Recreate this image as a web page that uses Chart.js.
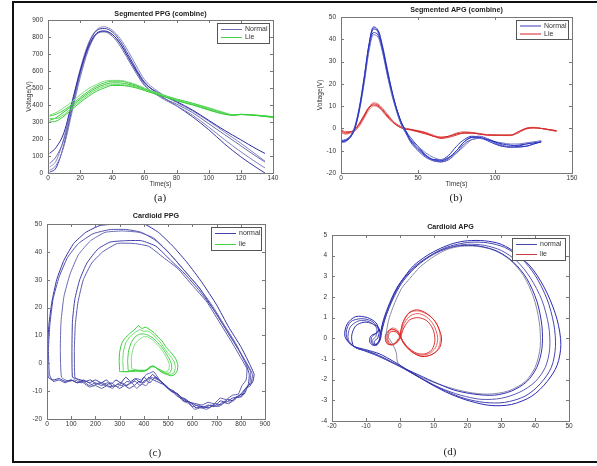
<!DOCTYPE html>
<html>
<head>
<meta charset="utf-8">
<script src="https://cdn.jsdelivr.net/npm/chart.js@4.4.1/dist/chart.umd.min.js"></script>
<style>
  body { margin: 0; background: #fff; }
  #page { position: relative; width: 597px; height: 466px; overflow: hidden; background: #fff; }
  #frame { position: absolute; left: 12px; top: 1px; width: 600px; height: 458px; border: 2px solid #111; border-right: none; }
  canvas { position: absolute; }
  .cap { position: absolute; font-family: "Liberation Serif", "DejaVu Serif", serif; font-size: 11px; color: #222; transform: translateX(-50%); }
</style>
</head>
<body>
<div id="page">
  <div id="frame"></div>
  <canvas id="ppgSeg" width="275" height="192" style="left:20px;top:0px"></canvas>
  <canvas id="apgSeg" width="297" height="192" style="left:300px;top:0px"></canvas>
  <canvas id="ppgCard" width="270" height="262" style="left:20px;top:200px"></canvas>
  <canvas id="apgCard" width="297" height="262" style="left:300px;top:200px"></canvas>
  <div class="cap" style="left:160px;top:191px">(a)</div>
  <div class="cap" style="left:456px;top:191px">(b)</div>
  <div class="cap" style="left:155px;top:446px">(c)</div>
  <div class="cap" style="left:450px;top:445px">(d)</div>
</div>
<script>
// ---- (a) Segmented PPG ----
const ppgTime = [1, 5, 10, 15, 20, 25, 30, 35, 40, 45, 50, 55, 60, 70, 80, 90, 100, 110, 120, 130, 135];
const ppgNormal1 = [115, 150, 240, 420, 600, 740, 820, 835, 815, 760, 680, 600, 530, 465, 420, 370, 310, 250, 195, 140, 115];
const ppgNormal2 = [55, 95, 200, 390, 580, 730, 815, 830, 805, 745, 665, 585, 515, 450, 405, 355, 290, 225, 160, 95, 65];
const ppgNormal3 = [15, 45, 160, 360, 560, 720, 815, 835, 815, 760, 680, 595, 520, 445, 395, 340, 270, 195, 125, 60, 30];
const ppgNormal4 = [5, 30, 170, 380, 590, 750, 835, 850, 830, 775, 695, 610, 535, 455, 395, 330, 255, 170, 95, 30, 0];
const ppgNormal5 = [35, 70, 210, 410, 610, 760, 840, 860, 840, 790, 715, 630, 550, 470, 415, 365, 305, 240, 175, 105, 70];

const ppgLieTime = [1, 5, 10, 15, 20, 25, 30, 35, 40, 45, 50, 55, 60, 70, 80, 90, 100, 110, 115, 120, 130, 140];
const ppgLie1 = [300, 305, 335, 375, 415, 450, 480, 500, 515, 515, 510, 500, 485, 455, 425, 400, 370, 345, 340, 345, 338, 330];
const ppgLie2 = [320, 320, 345, 385, 425, 460, 490, 510, 520, 520, 515, 505, 490, 460, 430, 405, 375, 350, 342, 345, 340, 332];
const ppgLie3 = [335, 345, 370, 405, 445, 480, 510, 530, 540, 540, 530, 515, 495, 462, 435, 410, 380, 352, 342, 344, 340, 328];
const ppgLie4 = [340, 355, 385, 420, 460, 495, 520, 540, 545, 545, 535, 520, 500, 465, 435, 410, 385, 355, 343, 345, 338, 325];
const ppgLie5 = [310, 325, 360, 395, 435, 470, 500, 520, 530, 530, 522, 510, 492, 458, 430, 405, 375, 348, 340, 344, 338, 330];

// ---- (b) Segmented APG ----
const apgTime = [0, 3, 6, 9, 12, 15, 18, 21, 24, 27, 30, 33, 36, 39, 42, 45, 50, 55, 60, 65, 70, 75, 80, 85, 90, 95, 100, 105, 110, 115, 120, 125, 130];
const apgNormal1 = [-6, -5.5, -4, 0, 9, 22, 37, 45.5, 44, 36, 26, 17, 9, 3, -1, -5, -9, -12, -14, -14.5, -13, -10, -6, -4, -4, -5, -6, -7, -7.5, -8, -8, -7, -6];
const apgNormal2 = [-6, -5.5, -3.5, 1, 10, 23, 37, 45, 43, 35, 25, 16, 8, 2, -2, -6, -10, -13, -14.5, -15, -13.5, -10, -6, -4, -3.5, -4.5, -6, -7.5, -8.5, -8.5, -8, -7, -6];
const apgNormal3 = [-6.5, -6, -4, 0, 8, 20, 34, 42, 41, 34, 24, 15, 8, 2, -2, -5, -8, -11, -13, -14, -13, -11, -8, -5, -4.5, -5, -6, -6.5, -7, -7, -6.5, -6, -5.5];
const apgNormal4 = [-5.5, -5, -3.5, 0.5, 9, 21, 35, 43, 42, 35, 25, 16, 9, 3, -1, -4, -8, -12, -14, -14, -12, -8, -5, -3.5, -4, -5.5, -7, -8, -8, -7.5, -7, -6.5, -6];
const apgNormal5 = [-6, -5.5, -4, 0, 9, 22, 36, 44.5, 44, 37, 27, 17, 9, 3, -1.5, -5.5, -9.5, -12.5, -14.5, -15, -14, -11, -7, -5, -4.5, -5, -6.5, -8, -8.5, -8, -7, -6.5, -6];

const apgLieTime = [0, 3, 6, 9, 12, 15, 18, 21, 24, 27, 30, 35, 40, 45, 50, 55, 60, 65, 70, 75, 80, 85, 90, 95, 100, 105, 110, 115, 120, 125, 130, 135, 140];
const apgLie1 = [-1, -2, -1.5, -0.5, 2, 5.5, 9, 10.5, 10, 8, 5.5, 2, 0, -0.5, -1.2, -2, -3.5, -4, -3.5, -2.5, -2, -2, -2.5, -3, -3, -3, -3, -1.5, 0, 0.3, 0, -0.5, -1];
const apgLie2 = [-2, -2.5, -2, -1, 1.5, 5, 9, 11.5, 11, 9, 6.5, 2.5, 0.3, -0.3, -1, -1.8, -3, -4, -3.5, -2, -1.5, -1.8, -2.3, -2.8, -3, -3, -3, -2, 0, 0.5, 0, -0.5, -1.2];
const apgLie3 = [-0.5, -1.5, -1.5, -0.5, 2.5, 6, 9.5, 11, 10.5, 8.5, 6, 2.5, 0.5, -0.5, -1.5, -2.5, -3.5, -4.5, -4, -3, -2, -2, -2.5, -2.8, -3, -3.2, -3.2, -2, -0.3, 0.2, 0, -0.7, -1.3];
const apgLie4 = [-1.5, -2.5, -2, -1, 1, 4.5, 8, 10, 9.5, 7.5, 5, 2, 0, -0.8, -1.5, -2.3, -3.5, -4, -3.5, -2.5, -2.2, -2.2, -2.5, -3, -3, -3, -3, -1.8, 0, 0.4, 0, -0.5, -1];

// ---- (c) Cardioid PPG loops [x, y] ----
const cardPpgNormal1 = [[435,-4],[415,-6],[400,-5],[385,-7],[365,-5.5],[345,-6.5],[325,-5],[305,-7],[285,-6],[265,-7.5],[245,-6],[225,-7],[200,-6],[175,-7],[150,-6],[125,-7],[100,-6],[75,-6.5],[50,-5.5],[25,-6],[5,-5],[2,5],[8,14],[20,22],[40,30],[70,37],[110,43],[160,47],[220,49.5],[300,50],[400,50],[460,47],[520,42],[580,36],[640,29],[700,21],[750,13],[800,6],[835,0],[855,-4],[848,-7],[830,-8],[815,-11],[790,-11.5],[770,-13.5],[745,-13],[720,-15],[695,-14.5],[670,-16],[640,-15.5],[615,-16],[590,-14],[565,-13.5],[540,-11],[515,-10],[490,-8],[465,-6],[435,-4]];
const cardPpgNormal2 = [[445,-5],[425,-7],[405,-6],[385,-8],[365,-6.5],[345,-7],[325,-8],[300,-7],[275,-8.5],[250,-7],[225,-8],[200,-7],[175,-8],[150,-6.5],[125,-7],[100,-6],[75,-7],[50,-6],[25,-6.5],[10,-4],[6,5],[12,14],[25,23],[50,31],[85,38],[130,43],[190,46.5],[260,48],[330,48],[390,47],[450,44],[510,39],[570,33],[630,27],[690,19],[740,12],[790,5],[825,0],[848,-4],[840,-8],[820,-9],[800,-12],[775,-12.5],[750,-14.5],[725,-14],[700,-15.5],[675,-15],[650,-16],[625,-15],[600,-15.5],[575,-13],[550,-12.5],[525,-10],[500,-9],[475,-7],[445,-5]];
const cardPpgNormal3 = [[430,-5],[410,-8],[390,-7.5],[370,-9],[350,-7],[330,-8],[310,-7],[290,-8.5],[265,-7],[240,-8],[215,-7],[190,-8],[165,-6.5],[140,-7],[115,-6],[90,-6.5],[60,-5],[55,5],[58,15],[70,24],[95,32],[130,39],[180,44],[240,47],[310,47.5],[380,47],[440,45],[500,40],[560,34],[620,28],[680,21],[730,14],[780,7],[815,1],[840,-3],[838,-7],[820,-9],[805,-12],[780,-12],[760,-14],[735,-13.5],[710,-15.5],[685,-15],[660,-16.5],[635,-16],[610,-16.5],[585,-14.5],[560,-13.5],[535,-11],[510,-10],[485,-7.5],[460,-6],[430,-5]];
const cardPpgNormal4 = [[420,-5],[400,-7],[380,-6.5],[360,-8],[340,-9],[320,-8],[300,-9],[280,-8],[255,-8.5],[230,-7],[205,-7.5],[180,-6],[160,-6.5],[140,-6],[120,-5.5],[105,-5],[103,5],[105,15],[115,23],[135,30],[165,36],[210,41],[260,43.5],[320,44],[390,44],[450,42],[510,37],[570,32],[630,26],[690,19],[740,12],[790,5],[820,0],[835,-4],[830,-8],[810,-10],[790,-12],[765,-12.5],[740,-14],[715,-13.5],[690,-15.5],[665,-15],[640,-16],[615,-15],[590,-14],[565,-13],[540,-11],[515,-10],[490,-8],[465,-7],[440,-6],[420,-5]];
const cardPpgNormal5 = [[410,-4],[390,-6],[370,-5.5],[350,-7],[330,-6.5],[310,-8],[290,-7.5],[270,-9],[250,-8],[225,-9],[200,-8],[175,-8.5],[150,-7],[130,-6],[115,-5],[113,5],[117,14],[128,22],[150,30],[185,36],[230,40],[290,43],[360,43],[420,42],[480,38],[540,34],[600,28],[660,22],[710,15],[760,8],[800,2],[825,-2],[822,-6],[805,-8],[790,-11],[765,-11.5],[740,-13],[715,-12.5],[690,-14.5],[665,-14],[640,-15],[615,-14.5],[590,-14],[565,-12.5],[540,-12],[515,-10],[490,-8.5],[465,-6],[440,-3],[425,-3.5],[410,-4]];

const cardPpgLie1 = [[300,-3],[298,1],[300,4],[308,7],[322,9],[340,10.5],[360,12],[378,13.5],[392,12.5],[408,13],[425,12],[442,11],[458,9.5],[475,8],[490,6],[505,4.5],[520,3],[532,1.5],[540,-0.5],[538,-2.5],[528,-4],[512,-4.5],[495,-4],[478,-3.5],[462,-2.5],[448,-1.5],[435,-1],[425,-1.5],[410,-2.5],[390,-3],[365,-2.5],[340,-3],[320,-3],[300,-3]];
const cardPpgLie2 = [[315,-3],[313,1],[316,4.5],[326,7.5],[342,9.5],[362,11],[382,12],[400,11.5],[418,11.5],[436,10.5],[452,9],[468,7.5],[484,5.5],[500,3.5],[515,2],[525,0.5],[530,-1.5],[524,-3.5],[508,-4],[490,-3.5],[472,-3],[456,-2],[442,-1.2],[430,-1.2],[415,-2.5],[390,-3],[360,-2.5],[335,-3],[315,-3]];
const cardPpgLie3 = [[335,-2.5],[333,1],[337,4.5],[348,7.5],[364,9.5],[383,10.5],[402,10.5],[420,10],[438,9],[456,7.5],[472,6],[488,4],[502,2],[513,0],[515,-2],[505,-3.5],[488,-3.5],[470,-2.5],[455,-1.8],[440,-1],[425,-1.2],[410,-2.5],[385,-2.5],[360,-3],[335,-2.5]];
const cardPpgLie4 = [[350,-2],[348,1.5],[353,4.5],[364,7],[380,8.5],[398,9.5],[416,9.5],[434,8.5],[452,7],[468,5.5],[484,3.5],[497,1.5],[505,-0.5],[502,-2.5],[488,-3],[470,-2.5],[455,-1.8],[440,-1.2],[425,-1.5],[405,-2.5],[380,-2.5],[350,-2]];

// ---- (d) Cardioid APG loops [x, y] ----
const cardApgNormal1 = [[-7,0.25],[-8.6,0.1],[-8.8,-0.2],[-7.5,-0.35],[-6,-0.1],[-5.6,0.3],[-4.8,0.9],[-3,1.7],[-1,2.4],[1.5,3.0],[4,3.5],[8,4.0],[12,4.35],[16,4.6],[20,4.72],[25,4.72],[30,4.55],[35,4.05],[39.5,3.3],[43.5,2.2],[46.5,0.9],[47.6,-0.3],[46.5,-1.3],[43.5,-2.1],[39,-2.8],[33,-3.2],[27,-3.25],[21,-3.05],[15,-2.7],[9,-2.2],[3,-1.6],[-2,-1.1],[-6,-0.75],[-10,-0.55],[-14,-0.35],[-16.2,0.1],[-15.5,0.7],[-13,1.05],[-9.5,1.0],[-7,0.75],[-6.2,0.4],[-7,0.25]];
const cardApgNormal2 = [[-7.3,0.2],[-8.3,0.05],[-8.2,-0.25],[-6.8,-0.3],[-5.8,0],[-5.4,0.4],[-4.3,1.0],[-2.5,1.8],[-0.5,2.5],[2,3.05],[5,3.55],[9,4.0],[13,4.35],[17,4.55],[21,4.65],[26,4.62],[31,4.4],[36,3.85],[40,3.05],[43.5,1.9],[45.5,0.7],[46,-0.4],[44.8,-1.4],[41.5,-2.2],[37,-2.8],[31,-3.1],[25,-3.1],[19,-2.9],[13,-2.5],[7,-2.0],[1,-1.45],[-4,-1.0],[-8,-0.7],[-12,-0.5],[-15,-0.2],[-15.8,0.3],[-14.5,0.8],[-11.5,0.95],[-8.5,0.85],[-6.5,0.55],[-6.4,0.3],[-7.3,0.2]];
const cardApgNormal3 = [[-7,0.1],[-8,-0.1],[-7.6,-0.3],[-6.3,-0.2],[-5.8,0.2],[-5,0.7],[-3.5,1.4],[-1.5,2.15],[1,2.85],[4,3.4],[8,3.9],[12,4.25],[16,4.45],[20,4.55],[25,4.5],[30,4.25],[34.5,3.75],[38.5,2.95],[42,1.85],[44,0.6],[44.3,-0.5],[43,-1.4],[40,-2.1],[35.5,-2.6],[30,-2.9],[24,-2.95],[18,-2.75],[12,-2.4],[6,-1.9],[0,-1.35],[-5,-0.95],[-9,-0.65],[-13,-0.45],[-15.2,-0.05],[-14.6,0.55],[-12,0.85],[-9,0.8],[-6.8,0.5],[-7,0.1]];
const cardApgNormal4 = [[-6.5,0],[-7.5,-0.15],[-7,-0.35],[-5.8,-0.1],[-5.2,0.4],[-4,1.1],[-2,1.9],[0.5,2.65],[3.5,3.25],[7,3.75],[11,4.15],[15,4.4],[19,4.5],[24,4.45],[29,4.2],[33.5,3.7],[37.5,2.9],[40.5,1.8],[42,0.6],[42,-0.5],[40.5,-1.4],[37.5,-2.1],[33,-2.55],[28,-2.75],[22,-2.7],[16,-2.5],[10,-2.1],[4,-1.65],[-2,-1.2],[-6.5,-0.85],[-10.5,-0.6],[-13.5,-0.4],[-14.2,0.1],[-13,0.6],[-10.5,0.78],[-8,0.7],[-6,0.45],[-6.5,0]];
const cardApgNormal5 = [[-4,0.2],[-3.4,0.8],[-2,1.5],[0.5,2.4],[3,2.9],[6,3.45],[10,3.95],[14,4.3],[18,4.45],[23,4.45],[28,4.25],[32.5,3.8],[36.5,3.05],[39.5,2.0],[41.2,0.8],[41.5,-0.4],[40,-1.4],[37,-2.1],[32,-2.55],[26,-2.7],[20,-2.6],[14,-2.35],[8,-2.0],[3,-1.6],[-0.5,-1.2],[-1,-0.7],[-2,-0.3],[-4,0.2]];

const cardApgLie1 = [[0,0],[0.8,0.7],[2.5,1.2],[5,1.38],[8,1.2],[10.5,0.8],[12.3,0.1],[11.8,-0.45],[9.5,-0.78],[6.5,-0.88],[3.5,-0.65],[1.2,-0.25],[-0.5,0.3],[-2.5,0.45],[-4.2,0.15],[-3.8,-0.25],[-1.8,-0.3],[0,0]];
const cardApgLie2 = [[0.3,0.05],[1,0.6],[2.8,1.05],[5.2,1.2],[7.8,1.05],[10,0.65],[11.2,0.05],[10.6,-0.45],[8.5,-0.75],[5.8,-0.8],[3,-0.55],[1,-0.2],[-0.8,0.35],[-2.8,0.4],[-3.8,0.05],[-3.2,-0.28],[-1.2,-0.22],[0.3,0.05]];
const cardApgLie3 = [[0.2,0],[1.2,0.5],[3,0.9],[5.5,1.0],[8,0.85],[9.8,0.45],[10.4,-0.1],[9.5,-0.55],[7.5,-0.75],[5,-0.72],[2.5,-0.45],[0.8,-0.1],[-1,0.3],[-2.8,0.3],[-3.5,-0.05],[-2.5,-0.3],[-0.8,-0.2],[0.2,0]];
const cardApgLie4 = [[0,0.1],[1,0.75],[3,1.25],[5.5,1.32],[8.5,1.12],[11,0.7],[12,0.0],[11.2,-0.55],[9,-0.82],[6,-0.85],[3.2,-0.6],[1,-0.15],[-0.6,0.4],[-2.2,0.5],[-4,0.2],[-3.6,-0.2],[-2,-0.32],[0,0.1]];

Chart.defaults.font.family = '"Liberation Sans", Arial, sans-serif';
Chart.defaults.animation = false;
const tickFont = { size: 6.5 };

// one trace of y values against a time list
function traceSet(xs, ys, color) {
  return {
    data: xs.map((x, i) => ({ x: x, y: ys[i] })),
    borderColor: color, borderWidth: 1, pointRadius: 0,
    showLine: true, cubicInterpolationMode: 'monotone'
  };
}
// one closed loop of [x, y] points
function loopSet(pts, color, tension) {
  return {
    data: pts.map(p => ({ x: p[0], y: p[1] })),
    borderColor: color, borderWidth: 1, pointRadius: 0,
    showLine: true, tension: tension
  };
}

// matlab style box, inward ticks, title and legend
function matlabFrame(title, titleGap, entries, box) {
  return {
    id: 'matlabFrame',
    afterDatasetsDraw(chart) {
      const ctx = chart.ctx, a = chart.chartArea;
      const sx = chart.scales.x, sy = chart.scales.y;
      ctx.save();
      ctx.strokeStyle = '#777';
      ctx.lineWidth = 1;
      ctx.strokeRect(Math.round(a.left) + 0.5, Math.round(a.top) + 0.5, Math.round(a.width), Math.round(a.height));
      ctx.beginPath();
      sx.ticks.forEach(t => {
        const px = Math.round(sx.getPixelForValue(t.value)) + 0.5;
        ctx.moveTo(px, a.bottom); ctx.lineTo(px, a.bottom - 3);
        ctx.moveTo(px, a.top); ctx.lineTo(px, a.top + 3);
      });
      sy.ticks.forEach(t => {
        const py = Math.round(sy.getPixelForValue(t.value)) + 0.5;
        ctx.moveTo(a.left, py); ctx.lineTo(a.left + 3, py);
        ctx.moveTo(a.right, py); ctx.lineTo(a.right - 3, py);
      });
      ctx.stroke();

      ctx.fillStyle = '#222';
      ctx.font = 'bold 7.2px "Liberation Sans", Arial, sans-serif';
      ctx.textAlign = 'center';
      ctx.textBaseline = 'middle';
      ctx.fillText(title, (a.left + a.right) / 2, a.top - titleGap);

      const x0 = Math.round(a.right - 4 - box.w), y0 = Math.round(a.top + 3);
      ctx.fillStyle = '#fff';
      ctx.fillRect(x0, y0, box.w, box.h);
      ctx.strokeStyle = '#555';
      ctx.strokeRect(x0 + 0.5, y0 + 0.5, box.w, box.h);
      ctx.font = '7px "Liberation Sans", Arial, sans-serif';
      ctx.textAlign = 'left';
      entries.forEach((e, i) => {
        const ly = y0 + (box.h - box.gap) / 2 + i * box.gap + 0.5;
        ctx.strokeStyle = e.color;
        ctx.beginPath();
        ctx.moveTo(x0 + 4, ly); ctx.lineTo(x0 + 25, ly);
        ctx.stroke();
        ctx.fillStyle = '#333';
        ctx.fillText(e.label, x0 + 28, ly);
      });
      ctx.restore();
    }
  };
}

function axes(o) {
  return {
    x: {
      type: 'linear', min: o.xMin, max: o.xMax,
      afterFit: s => { s.height = o.xH; },
      grid: { display: false, drawTicks: false }, border: { display: false },
      ticks: { stepSize: o.xStep, padding: 1, font: tickFont, color: '#333', maxRotation: 0, autoSkip: false },
      title: { display: !!o.xTitle, text: o.xTitle, padding: 0, font: tickFont, color: '#333' }
    },
    y: {
      type: 'linear', min: o.yMin, max: o.yMax,
      afterFit: s => { s.width = o.yW; },
      grid: { display: false, drawTicks: false }, border: { display: false },
      ticks: { stepSize: o.yStep, padding: 5, font: tickFont, color: '#333', autoSkip: false },
      title: { display: !!o.yTitle, text: o.yTitle, padding: 0, font: tickFont, color: '#333' }
    }
  };
}

function baseOptions(pad, scaleOpts) {
  return {
    responsive: false,
    devicePixelRatio: 1,
    layout: { padding: pad },
    plugins: { legend: { display: false }, tooltip: { enabled: false } },
    scales: axes(scaleOpts)
  };
}

// (a)
const blueA = ['#2b2ba6', '#6b6bb3', '#7f7fc0', '#3a3aa8', '#8585c2'];
const greenA = ['#33cc33', '#66dd66', '#44d044', '#7ddf7d', '#2ec42e'];
new Chart(document.getElementById('ppgSeg'), {
  type: 'scatter',
  data: { datasets: [
    traceSet(ppgLieTime, ppgLie1, greenA[0]),
    traceSet(ppgLieTime, ppgLie2, greenA[1]),
    traceSet(ppgLieTime, ppgLie3, greenA[2]),
    traceSet(ppgLieTime, ppgLie4, greenA[3]),
    traceSet(ppgLieTime, ppgLie5, greenA[4]),
    traceSet(ppgTime, ppgNormal1, blueA[0]),
    traceSet(ppgTime, ppgNormal2, blueA[1]),
    traceSet(ppgTime, ppgNormal3, blueA[2]),
    traceSet(ppgTime, ppgNormal4, blueA[3]),
    traceSet(ppgTime, ppgNormal5, blueA[4])
  ] },
  options: baseOptions({ left: 5, right: 22, top: 20, bottom: 4 },
    { xMin: 0, xMax: 140, xStep: 20, yMin: 0, yMax: 900, yStep: 100, xH: 15, yW: 23, xTitle: 'Time(s)', yTitle: 'Voltage(V)' }),
  plugins: [matlabFrame('Segmented PPG (combine)', 6,
    [{ label: 'Normal', color: '#6b6bb3' }, { label: 'Lie', color: '#44d044' }], { w: 52, h: 20, gap: 8 })]
});

// (b)
const blueB = ['#1f2fc8', '#5b5bbb', '#7777c4', '#2a3ac0', '#4a4ab8'];
const redB = ['#d42020', '#e46a6a', '#d93a3a', '#eb8c8c'];
new Chart(document.getElementById('apgSeg'), {
  type: 'scatter',
  data: { datasets: [
    traceSet(apgTime, apgNormal1, blueB[0]),
    traceSet(apgTime, apgNormal2, blueB[1]),
    traceSet(apgTime, apgNormal3, blueB[2]),
    traceSet(apgTime, apgNormal4, blueB[3]),
    traceSet(apgTime, apgNormal5, blueB[4]),
    traceSet(apgLieTime, apgLie1, redB[0]),
    traceSet(apgLieTime, apgLie2, redB[1]),
    traceSet(apgLieTime, apgLie3, redB[2]),
    traceSet(apgLieTime, apgLie4, redB[3])
  ] },
  options: baseOptions({ left: 16, right: 25, top: 17, bottom: 4 },
    { xMin: 0, xMax: 150, xStep: 50, yMin: -20, yMax: 50, yStep: 10, xH: 15, yW: 25, xTitle: 'Time(s)', yTitle: 'Voltage(V)' }),
  plugins: [matlabFrame('Segmented APG (combine)', 6.5,
    [{ label: 'Normal', color: '#3a3ac0' }, { label: 'Lie', color: '#d42020' }], { w: 52, h: 19, gap: 8 })]
});

// (c)
const blueC = ['#3535a5', '#5050aa', '#6a6ab5', '#4040a8', '#5c5cb0'];
const greenC = ['#33cc33', '#66dd66', '#44d044', '#7ddf7d'];
new Chart(document.getElementById('ppgCard'), {
  type: 'scatter',
  data: { datasets: [
    loopSet(cardPpgNormal1, blueC[0], 0.15),
    loopSet(cardPpgNormal2, blueC[1], 0.15),
    loopSet(cardPpgNormal3, blueC[2], 0.15),
    loopSet(cardPpgNormal4, blueC[3], 0.15),
    loopSet(cardPpgNormal5, blueC[4], 0.15),
    loopSet(cardPpgLie1, greenC[0], 0.15),
    loopSet(cardPpgLie2, greenC[1], 0.15),
    loopSet(cardPpgLie3, greenC[2], 0.15),
    loopSet(cardPpgLie4, greenC[3], 0.15)
  ] },
  options: baseOptions({ left: 5, right: 25, top: 24, bottom: 31 },
    { xMin: 0, xMax: 900, xStep: 100, yMin: -20, yMax: 50, yStep: 10, xH: 12, yW: 22 }),
  plugins: [matlabFrame('Cardioid PPG', 8,
    [{ label: 'normal', color: '#4040a8' }, { label: 'lie', color: '#44d044' }], { w: 50, h: 23, gap: 11 })]
});

// (d)
const blueD = ['#2a2ab5', '#4646ad', '#5a5ab5', '#3030b0', '#8a8aa8'];
const redD = ['#e02020', '#e66060', '#dd3030', '#ec8080'];
new Chart(document.getElementById('apgCard'), {
  type: 'scatter',
  data: { datasets: [
    loopSet(cardApgNormal1, blueD[0], 0.3),
    loopSet(cardApgNormal2, blueD[1], 0.3),
    loopSet(cardApgNormal3, blueD[2], 0.3),
    loopSet(cardApgNormal4, blueD[3], 0.3),
    loopSet(cardApgNormal5, blueD[4], 0.3),
    loopSet(cardApgLie1, redD[0], 0.3),
    loopSet(cardApgLie2, redD[1], 0.3),
    loopSet(cardApgLie3, redD[2], 0.3),
    loopSet(cardApgLie4, redD[3], 0.3)
  ] },
  options: baseOptions({ left: 5, right: 28, top: 35, bottom: 29 },
    { xMin: -20, xMax: 50, xStep: 10, yMin: -4, yMax: 5, yStep: 1, xH: 12, yW: 27 }),
  plugins: [matlabFrame('Cardioid APG', 8,
    [{ label: 'normal', color: '#4646ad' }, { label: 'lie', color: '#c84040' }], { w: 53, h: 22, gap: 10 })]
});
</script>
</body>
</html>
